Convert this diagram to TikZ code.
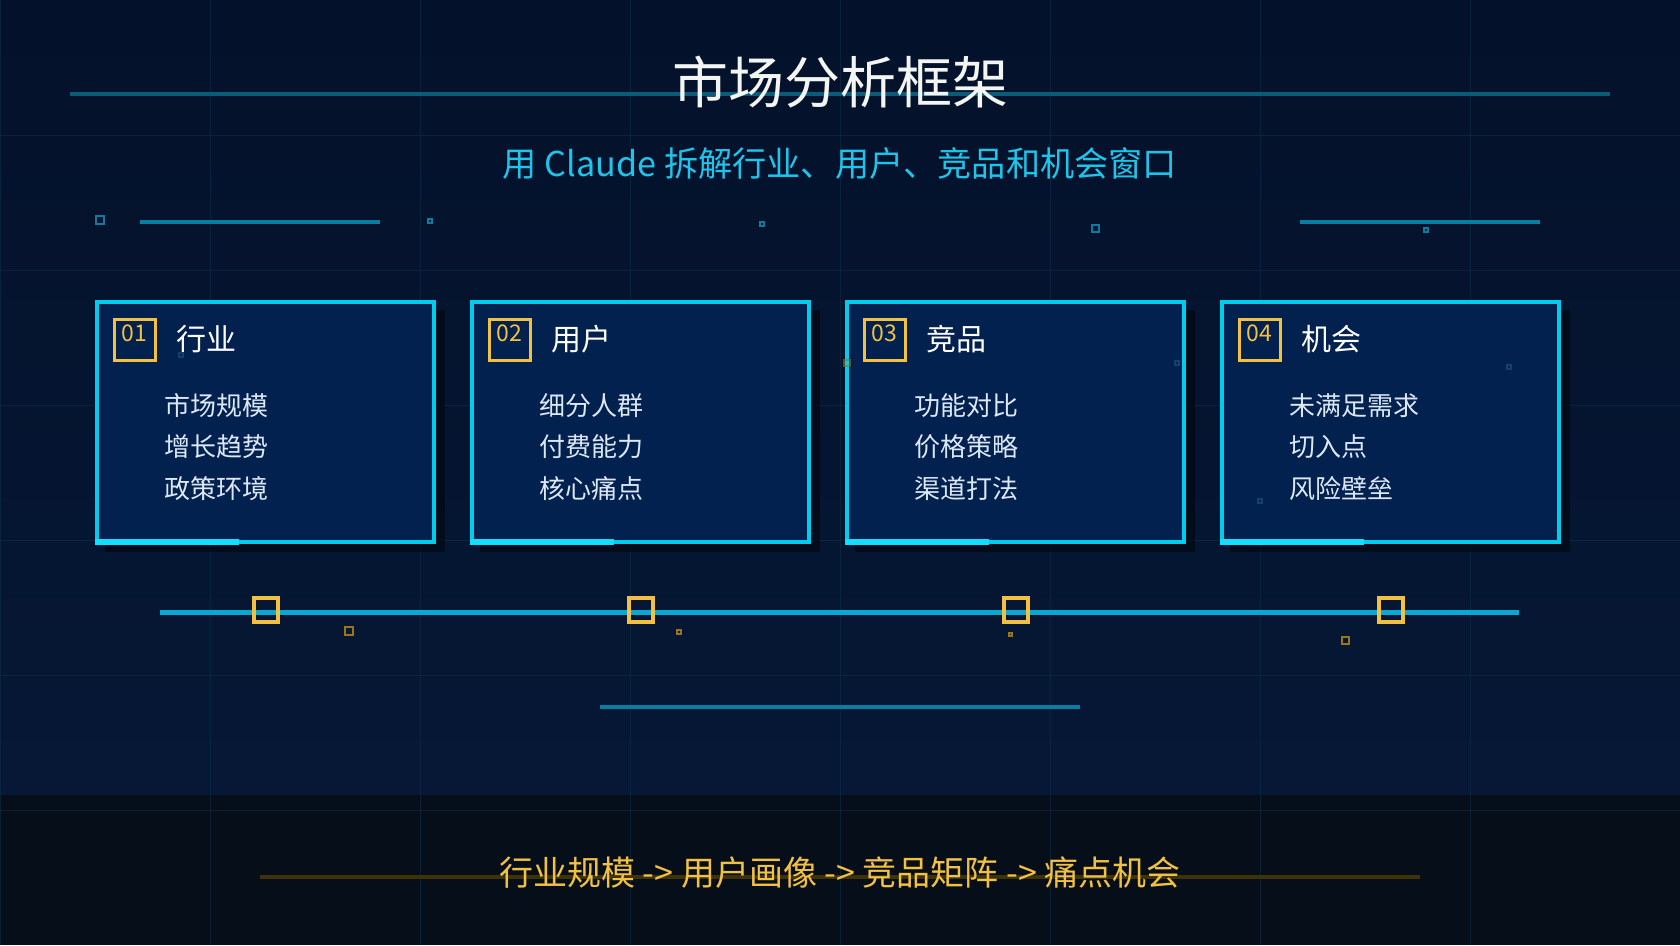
\documentclass[tikz,border=0pt]{standalone}
\usepackage{fontspec}
\setmainfont{Noto Sans CJK SC}
\usetikzlibrary{positioning}

\definecolor{bgtop}{HTML}{04112A}
\definecolor{bgbot}{HTML}{061836}
\definecolor{bandc}{HTML}{050E19}
\definecolor{gridc}{HTML}{0A2A44}
\definecolor{cardfill}{HTML}{03214F}
\definecolor{cyanc}{HTML}{00CCEE}
\definecolor{cyanhi}{HTML}{14DEFF}
\definecolor{tlc}{HTML}{0AA8D0}
\definecolor{tealc}{HTML}{0B5C78}
\definecolor{tealhi}{HTML}{0A7EA2}
\definecolor{goldc}{HTML}{F2C043}
\definecolor{golddk}{HTML}{9A7618}
\definecolor{olivec}{HTML}{3E3208}
\definecolor{itemc}{HTML}{DCE8F6}
\definecolor{subc}{HTML}{1EC5EA}
\definecolor{titlec}{HTML}{F2F5F2}
\definecolor{shadowc}{HTML}{020812}
\definecolor{faintc}{HTML}{16406A}

\begin{document}
\begin{tikzpicture}[
    x=1pt, y=-1pt,
    gridline/.style={draw=gridc, line width=1pt, opacity=0.7},
    titleline/.style={draw=tealc, line width=4pt},
    decoline/.style={draw=tealhi, line width=4pt},
    smallsq/.style={draw=#1, line width=2.5pt, inner sep=0pt, outer sep=0pt},
    cardbox/.style={draw=cyanc, line width=4pt, fill=cardfill, rectangle,
        minimum width=337pt, minimum height=240pt, inner sep=0pt, outer sep=0pt, anchor=north west},
    cardshadow/.style={fill=shadowc, opacity=0.7},
    accent/.style={draw=cyanhi, line width=5.5pt},
    numbox/.style={draw=goldc, line width=3pt, minimum size=41pt, inner sep=0pt, outer sep=0pt},
    numtext/.style={text=goldc, font=\fontsize{23}{23}\selectfont, inner sep=0pt, anchor=base},
    headtext/.style={text=white, font=\fontsize{30}{30}\selectfont, inner sep=0pt},
    itemtext/.style={text=itemc, font=\fontsize{26}{26}\selectfont, inner sep=0pt, anchor=base west},
    timeline/.style={draw=tlc, line width=5pt},
    marksq/.style={draw=goldc, line width=4pt, minimum size=24pt, inner sep=0pt},
    lowline/.style={draw=tealhi, line width=4pt},
    flowline/.style={draw=olivec, line width=4pt},
]
\useasboundingbox (0,0) rectangle (1680,945);
\shade[top color=bgtop, bottom color=bgbot] (0,0) rectangle (1680,795);
\fill[bandc] (0,795) rectangle (1680,945);
\foreach \k in {0,...,8} \draw[gridline] (210*\k,0) -- (210*\k,945);
\foreach \k in {1,...,6} \draw[gridline] (0,135*\k) -- (1680,135*\k);

\draw[titleline] (70,94) -- (1610,94);
\node[text=titlec, font=\fontsize{56}{56}\selectfont, inner sep=0pt, anchor=base] (title) at (840,103) {市场分析框架};
\node[text=subc, font=\fontsize{34.2}{34.2}\selectfont, inner sep=0pt, anchor=base] (subtitle) at (840,176) {用 Claude 拆解行业、用户、竞品和机会窗口};

\draw[decoline] (140,222) -- (380,222);
\draw[decoline] (1300,222) -- (1540,222);
\node[smallsq=tealhi, minimum size=8pt] (dq1) at (100,220) {};
\node[smallsq=tealhi, minimum size=4pt, line width=2pt] (dq2) at (430,221) {};
\node[smallsq=tealhi, minimum size=4pt, line width=2pt] (dq3) at (762,224) {};
\node[smallsq=tealhi, minimum size=7pt, line width=2pt] (dq4) at (1095,228) {};
\node[smallsq=tealhi, minimum size=4pt, line width=2pt] (dq5) at (1426,230) {};

\foreach \i/\head/\ia/\ib/\ic in {1/行业/市场规模/增长趋势/政策环境,
    2/用户/细分人群/付费能力/核心痛点, 3/竞品/功能对比/价格策略/渠道打法,
    4/机会/未满足需求/切入点/风险壁垒}{
  \pgfmathsetmacro{\cx}{97+375*(\i-1)}
  \fill[cardshadow] (\cx+8,310) rectangle (\cx+348,552);
  \node[cardbox] (card\i) at (\cx,302) {};
  \draw[accent] ([xshift=-2pt]card\i.south west) -- ++(144,0);
  \node[numbox, below right=17pt and 17pt of card\i.north west] (numbox\i) {};
  \node[numtext] (num\i) at ([yshift=-1.5pt]numbox\i.center) {0\i};
  \node[headtext, right=21pt of numbox\i] (head\i) {\head};
  \foreach \t [count=\j from 0] in {\ia,\ib,\ic}
    \node[itemtext] (item\i-\j) at ([shift={(67,113+41.5*\j)}]card\i.north west) {\t};
}

\node[smallsq=faintc, minimum size=4pt, line width=1.5pt] (fq1) at (181,355) {};
\node[smallsq=golddk, minimum size=6pt, line width=1.5pt, opacity=0.6] (fq2) at (847,363) {};
\node[smallsq=faintc, minimum size=4pt, line width=1.5pt] (fq3) at (1177,363) {};
\node[smallsq=faintc, minimum size=4pt, line width=1.5pt] (fq4) at (1509,367) {};
\node[smallsq=faintc, minimum size=4pt, line width=1.5pt] (fq5) at (1260,501) {};

\coordinate (tl-a) at (160,612);
\coordinate (tl-b) at (1519,612);
\draw[timeline] (tl-a) -- (tl-b);
\foreach \i in {1,...,4}
  \node[marksq] (mark\i) at ([yshift=2pt]card\i.south |- tl-a) {};
\node[smallsq=golddk, minimum size=8pt] (gq1) at (349,631) {};
\node[smallsq=golddk, minimum size=4pt, line width=2pt] (gq2) at (679,632) {};
\node[smallsq=golddk, minimum size=3pt, line width=2pt] (gq3) at (1010,634) {};
\node[smallsq=golddk, minimum size=7pt, line width=2pt] (gq4) at (1345,640) {};

\coordinate (low-a) at (600,707);
\coordinate (low-b) at (1080,707);
\draw[lowline] (low-a) -- (low-b);

\coordinate (flow-a) at (260,877);
\coordinate (flow-b) at (1420,877);
\draw[flowline] (flow-a) -- (flow-b);
\node[text=goldc, font=\fontsize{34}{34}\selectfont, inner sep=0pt, anchor=base] (flow) at (840,885) {行业规模 -> 用户画像 -> 竞品矩阵 -> 痛点机会};
\end{tikzpicture}
\end{document}
